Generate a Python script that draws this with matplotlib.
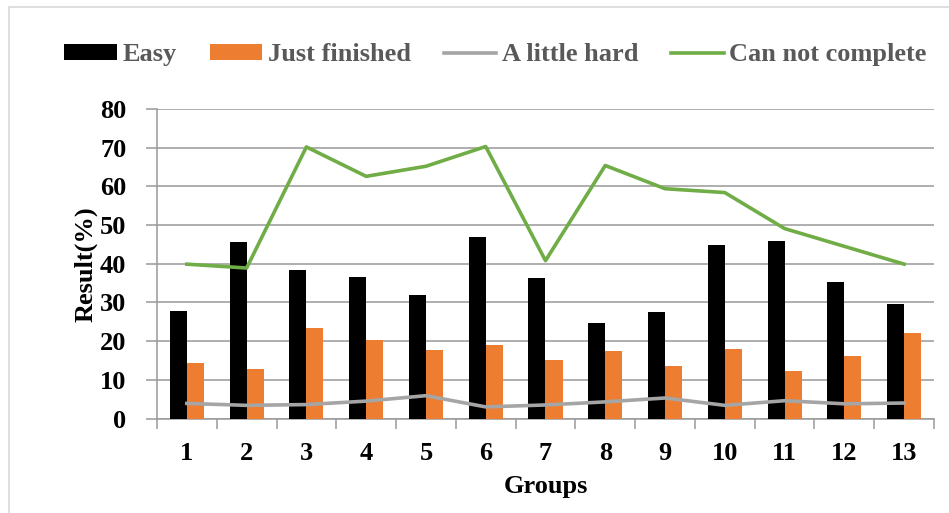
import matplotlib
matplotlib.use("Agg")
import matplotlib.pyplot as plt
import numpy as np
from matplotlib.patches import Rectangle

groups = ["1", "2", "3", "4", "5", "6", "7", "8", "9", "10", "11", "12", "13"]
easy = [27.7, 45.5, 38.3, 36.5, 32.0, 47.0, 36.2, 24.7, 27.6, 44.8, 45.9, 35.2, 29.6]
just_finished = [14.4, 12.8, 23.4, 20.2, 17.6, 18.9, 15.1, 17.4, 13.6, 18.0, 12.3, 16.1, 22.1]
little_hard = [3.9, 3.4, 3.6, 4.5, 5.9, 3.0, 3.5, 4.3, 5.3, 3.4, 4.6, 3.8, 4.0]
cannot_complete = [39.9, 38.9, 70.2, 62.6, 65.2, 70.3, 40.8, 65.4, 59.4, 58.4, 49.1, 44.5, 39.9]
y_ticks = [0, 10, 20, 30, 40, 50, 60, 70, 80]

C_BLACK = "#000000"
C_ORANGE = "#ED7D31"
C_GRAY = "#A5A5A5"
C_GREEN = "#70AD47"
GRID = "#999999"

plt.rcParams["font.family"] = ["Liberation Serif", "DejaVu Serif"]
plt.rcParams["font.weight"] = "bold"

fig = plt.figure(figsize=(9.49, 5.13), dpi=100)
ax = fig.add_axes([0.1654, 0.1842, 0.8188, 0.6033])

x = np.arange(len(groups))
w = 0.285
h_easy = ax.bar(x, easy, width=-w, align="edge", color=C_BLACK, zorder=3, label="Easy")
h_just = ax.bar(x, just_finished, width=w, align="edge", color=C_ORANGE, zorder=3, label="Just finished")
h_hard, = ax.plot(x, little_hard, color=C_GRAY, lw=2.6, zorder=4, label="A little hard")
h_cant, = ax.plot(x, cannot_complete, color=C_GREEN, lw=2.6, zorder=4, label="Can not complete")

ax.set_xlim(-0.5, len(groups) - 0.5)
ax.set_ylim(0, 80)
ax.set_yticks(y_ticks)
ax.set_yticklabels([str(v) for v in y_ticks], fontsize=19, fontweight="bold")
ax.yaxis.grid(True, color=GRID, lw=1.1, zorder=0)
ax.set_axisbelow(True)

ax.set_xticks(x)
ax.set_xticklabels(groups, fontsize=19, fontweight="bold")
ax.set_xticks(np.arange(-0.5, len(groups)), minor=True)
ax.tick_params(axis="x", which="major", length=0, pad=17)
ax.tick_params(axis="x", which="minor", length=7, color=GRID, width=1.1)
ax.tick_params(axis="y", length=8, color=GRID, width=1.1, pad=14)

for s in ["top", "right"]:
    ax.spines[s].set_visible(False)
for s in ["left", "bottom"]:
    ax.spines[s].set_color(GRID)
    ax.spines[s].set_linewidth(1.1)

ax.set_ylabel("Result(%)", fontsize=19, fontweight="bold", labelpad=2)
ax.set_xlabel("Groups", fontsize=19, fontweight="bold", labelpad=7)

leg = fig.legend([h_easy, h_just, h_hard, h_cant],
                 ["Easy", "Just finished", "A little hard", "Can not complete"],
                 loc="center", bbox_to_anchor=(0.522, 0.893),
                 ncol=4, frameon=False, handlelength=2.0, handleheight=0.55,
                 handletextpad=0.2, columnspacing=1.25,
                 prop={"family": ["Liberation Serif"], "weight": "bold", "size": 19})
for t in leg.get_texts():
    t.set_color("#595959")

# light outer frame of the chart area
fig.patches.append(Rectangle((9 / 949, -0.05), 1.2, 1.05 - 7 / 513, transform=fig.transFigure,
                             fill=False, edgecolor="#D9D9D9", lw=1.2))

fig.savefig("out.png", dpi=100)
